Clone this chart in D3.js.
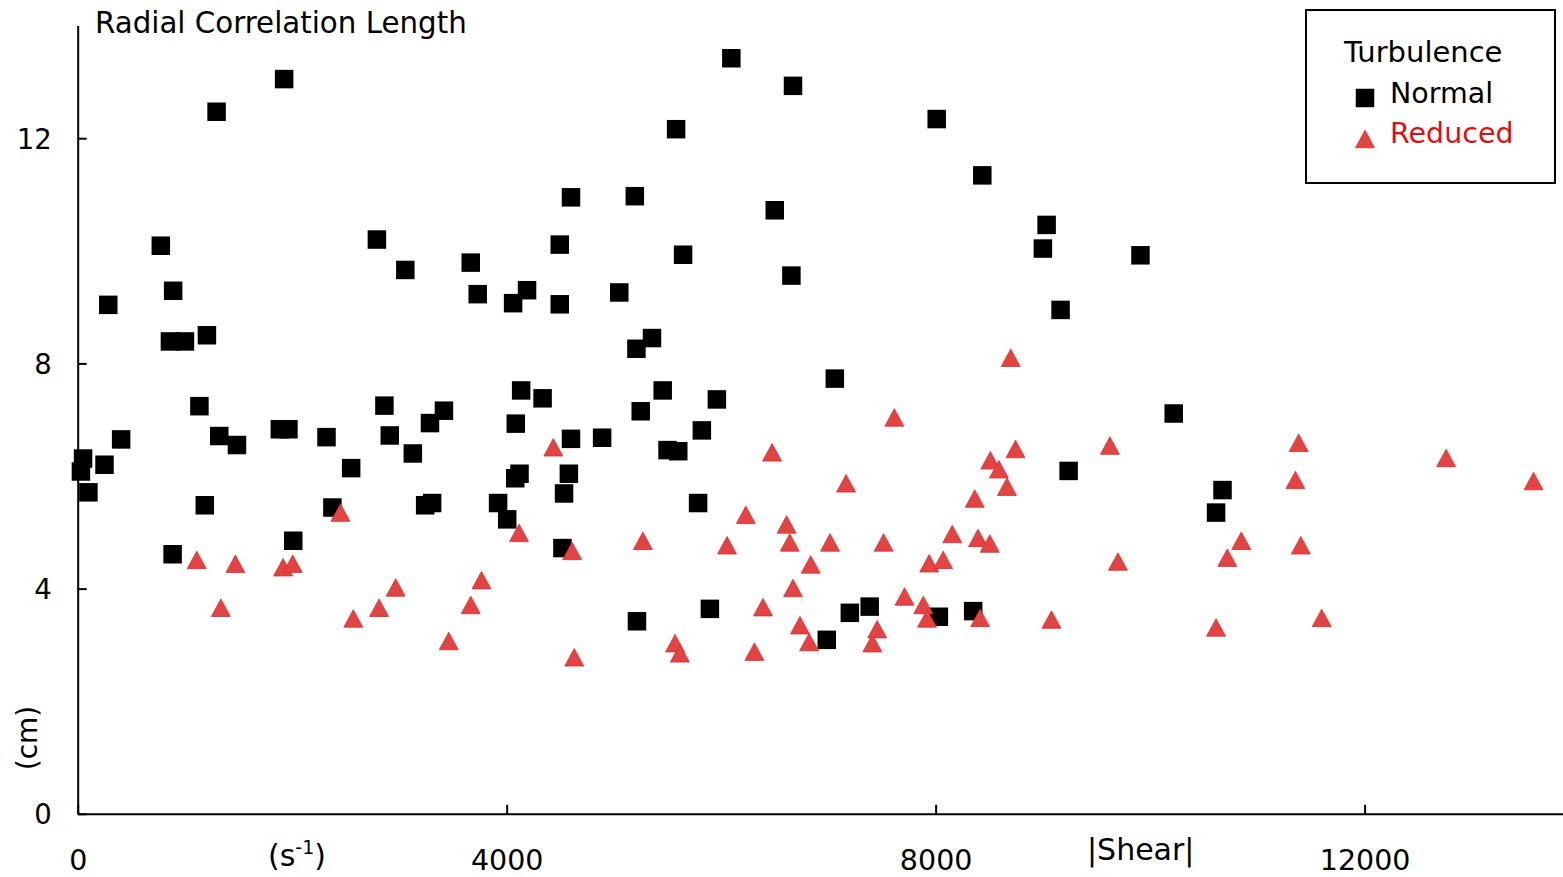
<!DOCTYPE html>
<html>
<head>
<meta charset="utf-8">
<script src="https://cdn.jsdelivr.net/npm/d3@7"></script>
<style>
  body { margin: 0; background: #fff; }
  svg { display: block; font-family: "DejaVu Sans", Verdana, sans-serif; }
</style>
</head>
<body>
<div id="chart"></div>
<script>
// values: |shear| (s^-1) and correlation length (cm)
var normalX = [30, 50, 100, 250, 285, 405, 775, 890, 860, 1000, 885, 1205, 1135, 1185, 1295,
  1320, 1485, 1925, 1885, 1965, 2010, 2320, 2375, 2550, 2790, 2860, 2910, 3055, 3125, 3240,
  3305, 3285, 3415, 3665, 3730, 3920, 4005, 4060, 4085, 4080, 4120, 4135, 4190, 4335, 4495,
  4495, 4520, 4535, 4580, 4600, 4600, 4890, 5050, 5195, 5210, 5215, 5250, 5355, 5455, 5500,
  5600, 5580, 5645, 5785, 5820, 5895, 5960, 6095, 6500, 6655, 6670, 6985, 7060, 7200, 7385,
  8010, 8030, 8350, 8435, 9000, 9035, 9165, 9240, 9910, 10220, 10615, 10675];
var normalY = [6.08, 6.31, 5.71, 6.20, 9.04, 6.65, 10.09, 9.29, 8.39, 8.39, 4.61, 8.50, 7.24, 5.48, 12.47,
  6.71, 6.55, 13.05, 6.83, 6.83, 4.85, 6.69, 5.44, 6.14, 10.20, 7.25, 6.72, 9.66, 6.40, 5.48,
  5.52, 6.94, 7.16, 9.79, 9.23, 5.52, 5.23, 9.07, 6.93, 5.96, 6.04, 7.52, 9.30, 7.38, 10.11,
  9.05, 4.72, 5.69, 6.04, 6.66, 10.95, 6.68, 9.26, 10.97, 8.26, 3.42, 7.15, 8.45, 7.52, 6.46,
  6.44, 12.16, 9.93, 5.52, 6.81, 3.64, 7.36, 13.42, 10.72, 9.56, 12.93, 3.09, 7.73, 3.57, 3.68,
  12.34, 3.50, 3.60, 11.34, 10.04, 10.46, 8.95, 6.09, 9.92, 7.11, 5.35, 5.75];

var reducedX = [1110, 1470, 1335, 1915, 2005, 2450, 2570, 2810, 2965, 3460, 3665, 3765, 4115, 4435, 4610,
  4630, 5270, 5570, 5615, 6055, 6230, 6310, 6390, 6475, 6610, 6640, 6670, 6735, 6820, 6835,
  7015, 7165, 7410, 7455, 7515, 7615, 7710, 7885, 7920, 7940, 8070, 8155, 8365, 8395, 8415,
  8505, 8510, 8590, 8665, 8700, 8745, 9080, 9625, 9700, 10615, 10720, 10850, 11355, 11385, 11405,
  11600, 12760, 13575];
var reducedY = [4.51, 4.44, 3.66, 4.38, 4.44, 5.35, 3.47, 3.66, 4.02, 3.07, 3.71, 4.15, 4.99, 6.51, 4.67,
  2.78, 4.85, 3.03, 2.85, 4.77, 5.31, 2.88, 3.67, 6.42, 5.14, 4.82, 4.01, 3.35, 3.05, 4.43,
  4.82, 5.87, 3.03, 3.28, 4.82, 7.04, 3.86, 3.71, 3.47, 4.45, 4.51, 4.97, 5.60, 4.90, 3.48,
  4.80, 6.28, 6.12, 5.81, 8.10, 6.48, 3.45, 6.54, 4.48, 3.31, 4.55, 4.85, 5.93, 6.59, 4.77,
  3.48, 6.32, 5.91];

var xTicks = [0, 4000, 8000, 12000];
var yTicks = [0, 4, 8, 12];
var seriesNames = ["Normal", "Reduced"];

var svgWidth = 1563, svgHeight = 877;
var margin = { top: 25.6, right: 0, bottom: 63.2, left: 77.7 };
var width = svgWidth - margin.left - margin.right;
var height = svgHeight - margin.top - margin.bottom;

var svg = d3.select("#chart").append("svg")
  .attr("width", svgWidth)
  .attr("height", svgHeight);

var chartGroup = svg.append("g")
  .attr("transform", `translate(${margin.left}, ${margin.top})`);

var xScale = d3.scaleLinear().domain([0, 13850]).range([0, width]);
var yScale = d3.scaleLinear().domain([0, 14]).range([height, 0]);

// axes with ticks pointing inward
var bottomAxis = d3.axisBottom(xScale).tickValues(xTicks)
  .tickSizeInner(-9).tickSizeOuter(0).tickFormat(d3.format("d"));
var leftAxis = d3.axisLeft(yScale).tickValues(yTicks)
  .tickSizeInner(-9).tickSizeOuter(0).tickFormat(d3.format("d"));

var xAxis = chartGroup.append("g")
  .attr("transform", `translate(0, ${height})`)
  .call(bottomAxis);
xAxis.selectAll("text")
  .attr("y", 56).attr("dy", 0)
  .style("font-size", "28.5px").style("font-family", "DejaVu Sans").attr("fill", "#000");

var yAxis = chartGroup.append("g").call(leftAxis);
yAxis.selectAll("text")
  .attr("x", -26).attr("dy", "0.36em")
  .style("font-size", "27.5px").style("font-family", "DejaVu Sans").attr("fill", "#000");

chartGroup.selectAll(".domain, .tick line")
  .attr("stroke", "#000").attr("stroke-width", 2);

// points
var normalData = normalX.map((v, i) => ({ x: v, y: normalY[i] }));
var reducedData = reducedX.map((v, i) => ({ x: v, y: reducedY[i] }));

var squareSymbol = d3.symbol().type(d3.symbolSquare).size(18.5 * 18.5);
// triangle centred on its bounding box, like the original markers
var triShape = {
  draw: function(ctx, size) {
    var w = 19, h = 17.5;
    ctx.moveTo(0, -h / 2);
    ctx.lineTo(w / 2, h / 2);
    ctx.lineTo(-w / 2, h / 2);
    ctx.closePath();
  }
};
var triSymbol = d3.symbol().type(triShape);

chartGroup.append("g").selectAll("path")
  .data(normalData)
  .enter()
  .append("path")
  .attr("d", squareSymbol)
  .attr("transform", d => `translate(${xScale(d.x)}, ${yScale(d.y)})`)
  .attr("fill", "#000");

chartGroup.append("g").selectAll("path")
  .data(reducedData)
  .enter()
  .append("path")
  .attr("d", triSymbol)
  .attr("transform", d => `translate(${xScale(d.x)}, ${yScale(d.y)})`)
  .attr("fill", "#e24444")
  .attr("stroke", "#d83030")
  .attr("stroke-width", 0.8);

// titles
svg.append("text")
  .attr("x", 95).attr("y", 33)
  .style("font-size", "29.3px")
  .text("Radial Correlation Length");

svg.append("text")
  .attr("transform", "translate(37, 738) rotate(-90)")
  .attr("text-anchor", "middle")
  .style("font-size", "28px")
  .text("(cm)");

var sLabel = svg.append("text")
  .attr("x", 268).attr("y", 866)
  .style("font-size", "30px");
sLabel.append("tspan").text("(s");
sLabel.append("tspan").attr("dy", -12).style("font-size", "19px").text("-1");
sLabel.append("tspan").attr("dy", 12).text(")");

svg.append("text")
  .attr("x", 1087).attr("y", 860)
  .style("font-size", "30px")
  .text("|Shear|");

// legend
var legend = svg.append("g");
legend.append("rect")
  .attr("x", 1306).attr("y", 10)
  .attr("width", 249).attr("height", 173)
  .attr("fill", "#fff").attr("stroke", "#000").attr("stroke-width", 2);
legend.append("text")
  .attr("x", 1344).attr("y", 62)
  .style("font-size", "29px")
  .text("Turbulence");
legend.append("path")
  .attr("d", squareSymbol)
  .attr("transform", "translate(1365, 98)")
  .attr("fill", "#000");
legend.append("text")
  .attr("x", 1390).attr("y", 103)
  .style("font-size", "28.5px")
  .text(seriesNames[0]);
legend.append("path")
  .attr("d", triSymbol)
  .attr("transform", "translate(1365, 139)")
  .attr("fill", "#e24444").attr("stroke", "#d83030").attr("stroke-width", 0.8);
legend.append("text")
  .attr("x", 1390).attr("y", 143)
  .style("font-size", "28.5px")
  .attr("fill", "#dd1010")
  .text(seriesNames[1]);
</script>
</body>
</html>
